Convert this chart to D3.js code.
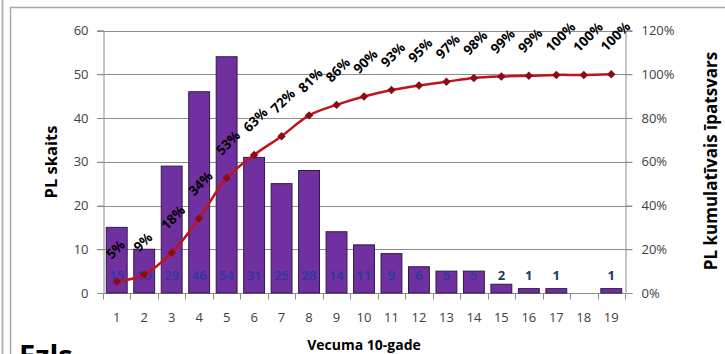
<!DOCTYPE html>
<html>
<head>
<meta charset="utf-8">
<script src="https://cdn.jsdelivr.net/npm/d3@7"></script>
<style>
    body { margin: 0; background: #fff; }
    svg { display: block; font-family: "Open Sans", sans-serif; }
</style>
</head>
<body>
<div id="chart"></div>
<script>
// age decades on the x axis
var categories = ['1','2','3','4','5','6','7','8','9','10','11','12','13','14','15','16','17','18','19'];
// PL count per decade (bars)
var counts = [15, 10, 29, 46, 54, 31, 25, 28, 14, 11, 9, 6, 5, 5, 2, 1, 1, 0, 1];
// cumulative share, % (line)
var cumulative = [5.1, 8.5, 18.4, 34.1, 52.6, 63.1, 71.7, 81.2, 86.0, 89.8, 92.8, 94.9, 96.6, 98.3, 99.0, 99.3, 99.7, 99.7, 100];
var cumulativeLabels = ['5%','9%','18%','34%','53%','63%','72%','81%','86%','90%','93%','95%','97%','98%','99%','99%','100%','100%','100%'];
var leftTicks = [0, 10, 20, 30, 40, 50, 60];
var rightTicks = [0, 20, 40, 60, 80, 100, 120];

var width = 725, height = 354;
var plot = {left: 103, right: 625, top: 30.5, bottom: 293};

var svg = d3.select('#chart').append('svg')
    .attr('width', width)
    .attr('height', height);

// outer frames
svg.append('line')
    .attr('x1', 2.5).attr('y1', 0).attr('x2', 2.5).attr('y2', height)
    .attr('stroke', '#b4b4b4').attr('stroke-width', 2);
svg.append('path')
    .attr('d', 'M10.5,' + height + 'V7.5H' + width)
    .attr('fill', 'none')
    .attr('stroke', '#a8a8a8').attr('stroke-width', 1.5);

var x = d3.scaleBand()
    .domain(categories)
    .range([plot.left, plot.right])
    .paddingInner(0.24)
    .paddingOuter(0.12);

var y = d3.scaleLinear().domain([0, 60]).range([plot.bottom, plot.top]);
var y2 = d3.scaleLinear().domain([0, 120]).range([plot.bottom, plot.top]);

// gridlines
svg.append('g')
    .selectAll('line').data(leftTicks.slice(1))
    .enter()
        .append('line')
        .attr('x1', plot.left - 6)
        .attr('x2', plot.right + 7)
        .attr('y1', function(d){return Math.round(y(d)) + 0.5})
        .attr('y2', function(d){return Math.round(y(d)) + 0.5})
        .attr('stroke', '#8c8c8c')
        .attr('stroke-width', 1)

// left axis
var leftAxis = svg.append('g')
    .attr('transform', 'translate(' + (plot.left + 0.5) + ',0)')
    .call(d3.axisLeft(y).tickValues(leftTicks).tickSize(6).tickPadding(9))
leftAxis.select('.domain').attr('stroke', '#8c8c8c');
leftAxis.selectAll('.tick line').attr('stroke', '#8c8c8c');
leftAxis.selectAll('text').attr('font-size', 13).attr('fill', '#404040')
    .attr('font-family', '"Open Sans", sans-serif');

// right axis
var rightAxis = svg.append('g')
    .attr('transform', 'translate(' + (plot.right + 0.5) + ',0)')
    .call(d3.axisRight(y2).tickValues(rightTicks).tickSize(7).tickPadding(9)
        .tickFormat(function(d){return d + '%'}))
rightAxis.select('.domain').attr('stroke', '#8c8c8c');
rightAxis.selectAll('.tick line').attr('stroke', '#8c8c8c');
rightAxis.selectAll('text').attr('font-size', 13).attr('fill', '#404040')
    .attr('font-family', '"Open Sans", sans-serif');

// bottom axis, ticks between categories
var bottom = svg.append('g')
    .attr('transform', 'translate(0,' + (plot.bottom + 0.5) + ')');
bottom.append('line')
    .attr('x1', plot.left).attr('x2', plot.right)
    .attr('stroke', '#8c8c8c');
var step = x.step();
bottom.selectAll('line.tick').data(categories.concat(['end']))
    .enter()
        .append('line')
        .attr('class', 'tick')
        .attr('x1', function(d, i){return Math.round(plot.left + i * step) + 0.5})
        .attr('x2', function(d, i){return Math.round(plot.left + i * step) + 0.5})
        .attr('y1', 0).attr('y2', 6)
        .attr('stroke', '#8c8c8c')
bottom.selectAll('text').data(categories)
    .enter()
        .append('text')
        .attr('x', function(d){return x(d) + x.bandwidth() / 2})
        .attr('y', 28)
        .attr('text-anchor', 'middle')
        .attr('font-size', 13)
        .attr('fill', '#404040')
        .text(function(d){return d})

// bars
svg.append('g')
    .selectAll('rect').data(counts)
    .enter()
        .append('rect')
        .attr('x', function(d, i){return x(categories[i])})
        .attr('y', function(d){return y(d)})
        .attr('width', x.bandwidth())
        .attr('height', function(d){return plot.bottom - y(d)})
        .attr('fill', '#7030a0')
        .attr('stroke', '#2e1a4a')
        .attr('stroke-width', 1)

// bar value labels, zero is left out
var countLabels = svg.append('g');
counts.forEach(function(d, i){
    if (d == 0) return;
    countLabels.append('text')
        .attr('x', x(categories[i]) + x.bandwidth() / 2)
        .attr('y', 280)
        .attr('text-anchor', 'middle')
        .attr('font-size', 13)
        .attr('font-weight', d < 5 ? 'bold' : 600)
        .attr('fill', d < 5 ? '#1f3864' : '#2a38a0')
        .text(d);
});

// cumulative line
var points = cumulative.map(function(d, i){
    return [x(categories[i]) + x.bandwidth() / 2, y2(d)];
});
svg.append('path')
    .attr('d', d3.line().curve(d3.curveCatmullRom.alpha(0.5))(points))
    .attr('fill', 'none')
    .attr('stroke', '#c0141c')
    .attr('stroke-width', 2.5)

svg.append('g')
    .selectAll('path').data(points)
    .enter()
        .append('path')
        .attr('d', d3.symbol(d3.symbolSquare, 36))
        .attr('transform', function(d){return 'translate(' + d[0] + ',' + d[1] + ') rotate(45)'})
        .attr('fill', '#8b0c10')

// percentage labels
svg.append('g')
    .selectAll('text').data(points)
    .enter()
        .append('text')
        .attr('transform', function(d, i){
            var lx = d[0] - 5, ly = d[1] - 22;
            return 'translate(' + lx + ',' + ly + ') rotate(-45)';
        })
        .attr('font-size', 13.5)
        .attr('font-weight', 'bold')
        .attr('fill', '#000')
        .text(function(d, i){return cumulativeLabels[i]})

// axis titles
svg.append('text')
    .attr('transform', 'translate(57,162) rotate(-90)')
    .attr('text-anchor', 'middle')
    .attr('font-size', 16.5)
    .attr('font-weight', 'bold')
    .text('PL skaits')
svg.append('text')
    .attr('transform', 'translate(717,161) rotate(-90)')
    .attr('text-anchor', 'middle')
    .attr('font-size', 17)
    .attr('font-weight', 'bold')
    .text('PL kumulatīvais īpatsvars')
svg.append('text')
    .attr('x', 364).attr('y', 350)
    .attr('text-anchor', 'middle')
    .attr('font-size', 14)
    .attr('font-weight', 'bold')
    .text('Vecuma 10-gade')

// heading of the next block, cut by the window
svg.append('text')
    .attr('x', 19).attr('y', 366)
    .attr('font-size', 29)
    .attr('font-weight', 'bold')
    .text('Ezls')
</script>
</body>
</html>
